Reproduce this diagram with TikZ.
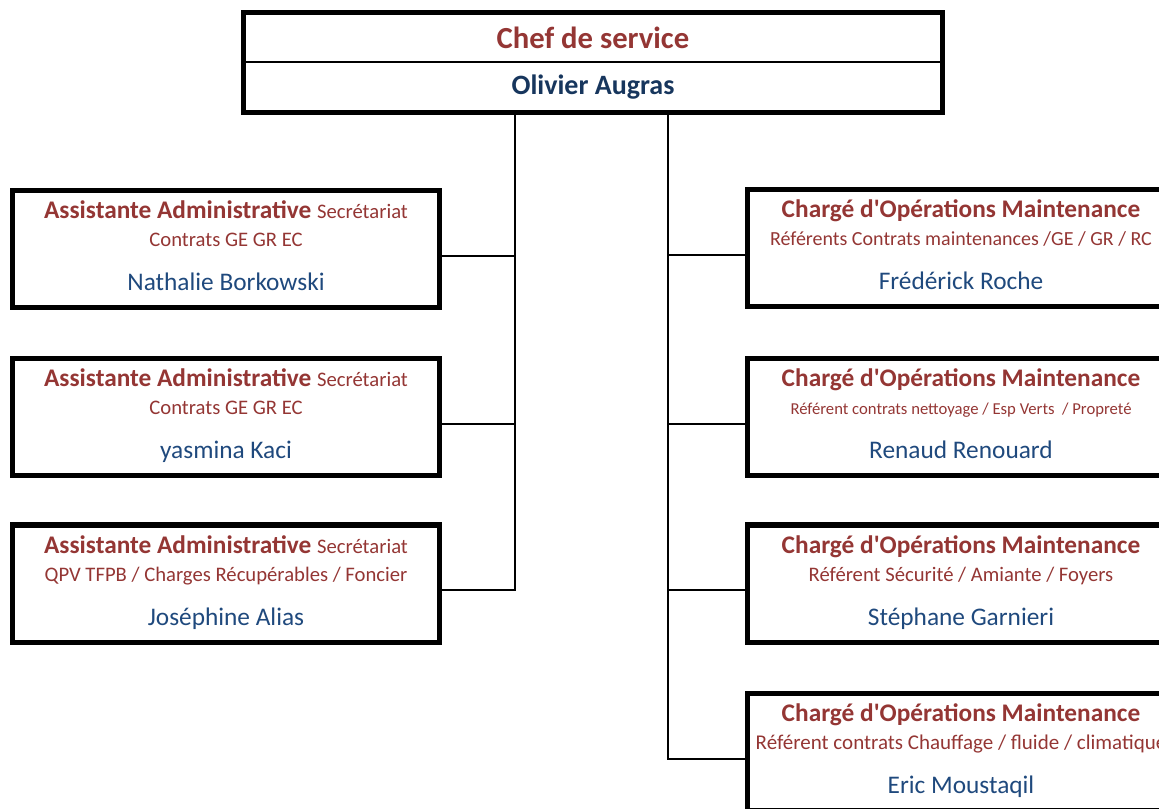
\documentclass[tikz,border=0pt]{standalone}
\usepackage{fontspec}
\setmainfont{Carlito}
\definecolor{brique}{HTML}{943634}
\definecolor{ardoise}{HTML}{1F497D}
\definecolor{marine}{HTML}{17365D}
\newcommand\titre[1]{{\bfseries\color{brique}#1}}
\newcommand\mission[2][15.5]{{\fontsize{#1}{21}\selectfont\color{brique}#2}}
\newcommand\agent[1]{{\color{ardoise}#1\strut}}
\newcommand\charge{\titre{Chargé d\textquotesingle Opérations Maintenance}\strut}
\tikzset{
	poste/.style={draw,line width=4pt,minimum width=320pt,minimum height=88pt,inner sep=0pt,align=center,font=\fontsize{19}{21}\selectfont},
	entete/.style={minimum width=524pt,minimum height=37.5pt,inner sep=0pt,outer sep=0pt,font=\bfseries},
	lien/.style={line width=1.5pt},
}
\begin{document}
\begin{tikzpicture}[x=0.75pt,y=-0.75pt]
	\useasboundingbox(0,0)rectangle(1159,809);
	\clip(0,0)rectangle(1159,809);
	% chef de service
	\node[entete,text=brique,font=\fontsize{23}{26}\selectfont\bfseries](chef)at(593,37.5){Chef de service};
	\node[entete,text=marine,font=\fontsize{21}{24}\selectfont\bfseries](augras)at(593,87.5){Olivier Augras};
	\draw[line width=4pt](chef.north west)rectangle(augras.south east);
	\draw[lien](chef.south west)--(chef.south east);
	% assistantes
	\node[poste](a1)at(226,249){\titre{Assistante Administrative} \mission{Secrétariat}\strut\\
		\mission{Contrats GE GR EC}\\[12pt]\agent{Nathalie Borkowski}};
	\node[poste](a2)at(226,417){\titre{Assistante Administrative} \mission{Secrétariat}\strut\\
		\mission{Contrats GE GR EC}\\[12pt]\agent{yasmina Kaci}};
	\node[poste](a3)at(226,583.5){\titre{Assistante Administrative} \mission{Secrétariat}\strut\\
		\mission{QPV TFPB / Charges Récupérables / Foncier}\\[12pt]\agent{Joséphine Alias}};
	% charges d'operations
	\node[poste](b1)at(961,248){\charge\\
		\mission[15]{Référents Contrats maintenances /GE / GR / RC}\\[12pt]\agent{Frédérick Roche}};
	\node[poste](b2)at(961,417){\charge\\
		\mission[12.5]{Référent contrats nettoyage / Esp Verts\ \ / Propreté}\\[12pt]\agent{Renaud Renouard}};
	\node[poste](b3)at(961,583.5){\charge\\
		\mission{Référent Sécurité / Amiante / Foyers}\\[12pt]\agent{Stéphane Garnieri}};
	\node[poste](b4)at(961,752){\charge\\
		\mission[15.75]{Référent contrats Chauffage / fluide / climatique}\\[12pt]\agent{Eric Moustaqil}};
	% liaisons
	\coordinate(tg)at(515,0);
	\coordinate(td)at(668,0);
	\foreach \i in {1,2,3}{\path([yshift=-5pt]a\i.east)coordinate(pa\i);}
	\foreach \i in {1,...,4}{\path([yshift=-5pt]b\i.west)coordinate(pb\i);}
	\draw[lien](augras.south-|tg)|-(pa3);
	\draw[lien](augras.south-|td)|-(pb4);
	\foreach \i in {1,2}{\draw[lien](pa\i)--(pa\i-|tg);}
	\foreach \i in {1,2,3}{\draw[lien](pb\i)--(pb\i-|td);}
\end{tikzpicture}
\end{document}
